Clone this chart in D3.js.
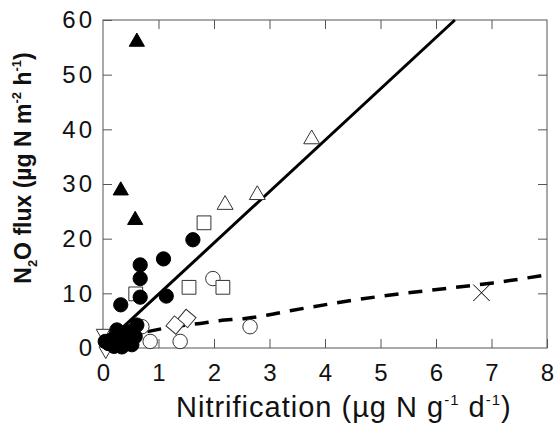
<!DOCTYPE html>
<html>
<head>
<meta charset="utf-8">
<script src="https://cdn.jsdelivr.net/npm/d3@7"></script>
<style>
  body { margin: 0; background: #fff; }
  svg { font-family: "Liberation Sans", Arial, sans-serif; }
</style>
</head>
<body>
<div id="chart"></div>
<script>
// ---- data ----
const x_ticks = [0, 1, 2, 3, 4, 5, 6, 7, 8];
const y_ticks = [0, 10, 20, 30, 40, 50, 60];

const filled_circle_x = [1.62, 1.09, 0.67, 0.67, 0.67, 1.14, 0.32, 0.61, 0.49, 0.25, 0.04, 0.16, 0.40, 0.58, 0.34, 0.25, 0.30, 0.45, 0.20, 0.10, 0.52, 0.38];
const filled_circle_y = [19.8, 16.3, 15.2, 12.7, 9.3, 9.5, 7.9, 4.2, 3.0, 2.7, 1.2, 1.5, 0.9, 2.1, 0.2, 3.3, 0.5, 1.8, 0.3, 0.8, 0.6, 2.4];

const open_circle_x = [1.98, 2.65, 1.39, 0.85, 0.70];
const open_circle_y = [12.7, 3.9, 1.2, 1.2, 3.9];

const open_square_x = [1.82, 1.55, 2.16, 0.59];
const open_square_y = [22.9, 11.1, 11.1, 9.9];

const open_triangle_x = [2.20, 2.78, 3.76];
const open_triangle_y = [26.2, 28.0, 38.2];

const filled_triangle_x = [0.61, 0.32, 0.58];
const filled_triangle_y = [56.0, 28.8, 23.4];

const diamond_x = [1.51, 1.30];
const diamond_y = [5.4, 4.2];

const down_triangle_x = [0.0, 0.05];
const down_triangle_y = [2.7, -0.5];

const cross_x = [6.82];
const cross_y = [10.1];

// fitted lines
const solid_x = [0.2, 6.34];
const solid_y = [2.3, 60];
const dashed_x = [0.8, 1.27, 1.75, 2.1, 2.56, 2.95, 3.37, 4.96, 6.19, 7.03, 8.0];
const dashed_y = [3.0, 3.9, 4.5, 5.0, 5.4, 6.0, 6.8, 9.4, 10.9, 11.9, 13.4];

const zip = (xs, ys) => xs.map((x, i) => [x, ys[i]]);

// ---- layout ----
const chart_width = 559;
const chart_height = 425;
const plot_left = 103, plot_right = 547, plot_top = 20, plot_bottom = 348;

const svg = d3.select('#chart')
    .append('svg')
    .attr('width', chart_width)
    .attr('height', chart_height);

const x_scale = d3.scaleLinear().domain([0, 8]).range([plot_left, plot_right]);
const y_scale = d3.scaleLinear().domain([0, 60]).range([plot_bottom, plot_top]);

// frame
svg.append('rect')
    .attr('x', plot_left).attr('y', plot_top)
    .attr('width', plot_right - plot_left).attr('height', plot_bottom - plot_top)
    .attr('fill', 'none')
    .attr('stroke', '#555')
    .attr('stroke-width', 1);

// axes with inward ticks
const tick_len = 9;
const axis_style = g => {
    g.select('.domain').remove();
    g.selectAll('.tick line').attr('stroke', '#555');
};

svg.append('g')
    .attr('transform', `translate(0,${plot_bottom})`)
    .call(d3.axisBottom(x_scale).tickValues(x_ticks).tickSizeInner(-tick_len).tickSizeOuter(0).tickPadding(16))
    .call(axis_style)
    .selectAll('text')
    .attr('font-size', 24)
    .attr('fill', '#111')
    .attr('font-family', '"Liberation Sans", Arial, sans-serif');

svg.append('g')
    .attr('transform', `translate(0,${plot_top})`)
    .call(d3.axisTop(x_scale).tickValues(x_ticks.slice(1, -1)).tickSizeInner(-tick_len).tickSizeOuter(0).tickFormat(''))
    .call(axis_style);

svg.append('g')
    .attr('transform', `translate(${plot_left},0)`)
    .call(d3.axisLeft(y_scale).tickValues(y_ticks).tickSizeInner(-tick_len).tickSizeOuter(0).tickPadding(8))
    .call(axis_style)
    .selectAll('text')
    .attr('font-size', 24)
    .attr('letter-spacing', 3)
    .attr('fill', '#111')
    .attr('font-family', '"Liberation Sans", Arial, sans-serif');

svg.append('g')
    .attr('transform', `translate(${plot_right},0)`)
    .call(d3.axisRight(y_scale).tickValues(y_ticks.slice(1, -1)).tickSizeInner(-tick_len).tickSizeOuter(0).tickFormat(''))
    .call(axis_style);

// fitted lines
const line = d3.line().x(d => x_scale(d[0])).y(d => y_scale(d[1]));

svg.append('path')
    .datum(zip(solid_x, solid_y))
    .attr('d', line)
    .attr('fill', 'none')
    .attr('stroke', '#000')
    .attr('stroke-width', 3);

svg.append('path')
    .datum(zip(dashed_x, dashed_y))
    .attr('d', line.curve(d3.curveMonotoneX))
    .attr('fill', 'none')
    .attr('stroke', '#000')
    .attr('stroke-width', 3.5)
    .attr('stroke-dasharray', '14,10');

// markers
const draw_points = (xs, ys, type, size, filled, rotate) => {
    svg.append('g')
        .selectAll('path')
        .data(zip(xs, ys))
        .enter()
        .append('path')
        .attr('d', d3.symbol().type(type).size(size))
        .attr('transform', d => `translate(${x_scale(d[0])},${y_scale(d[1])}) rotate(${rotate || 0})`)
        .attr('fill', filled ? '#000' : '#fff')
        .attr('stroke', filled ? '#000' : '#333')
        .attr('stroke-width', 1);
};

draw_points(open_circle_x, open_circle_y, d3.symbolCircle, 165, false);
draw_points(open_square_x, open_square_y, d3.symbolSquare, 190, false);
draw_points(open_triangle_x, open_triangle_y, d3.symbolTriangle, 110, false);
draw_points(diamond_x, diamond_y, d3.symbolSquare, 170, false, 40);
draw_points(down_triangle_x, down_triangle_y, d3.symbolTriangle, 80, false, 180);
draw_points(filled_circle_x, filled_circle_y, d3.symbolCircle, 160, true);
draw_points(filled_triangle_x, filled_triangle_y, d3.symbolTriangle, 100, true);

svg.append('g')
    .selectAll('path')
    .data(zip(cross_x, cross_y))
    .enter()
    .append('path')
    .attr('d', d3.symbol().type(d3.symbolTimes).size(180))
    .attr('transform', d => `translate(${x_scale(d[0])},${y_scale(d[1])})`)
    .attr('fill', 'none')
    .attr('stroke', '#000')
    .attr('stroke-width', 1);

// axis titles
const x_title = svg.append('text')
    .attr('x', 176)
    .attr('y', 417)
    .attr('font-size', 29)
    .attr('letter-spacing', 1)
    .attr('fill', '#111');
x_title.append('tspan').text('Nitrification (µg N g');
x_title.append('tspan').text('-1').attr('font-size', 15).attr('dy', -12);
x_title.append('tspan').text(' d').attr('font-size', 29).attr('dy', 12);
x_title.append('tspan').text('-1').attr('font-size', 15).attr('dy', -12);
x_title.append('tspan').text(')').attr('font-size', 29).attr('dy', 12);

const y_title = svg.append('text')
    .attr('transform', 'translate(31,168) rotate(-90)')
    .attr('text-anchor', 'middle')
    .attr('font-size', 23)
    .attr('font-weight', 'bold')
    .attr('fill', '#111');
y_title.append('tspan').text('N');
y_title.append('tspan').text('2').attr('font-size', 13).attr('dy', 6);
y_title.append('tspan').text('O flux (µg N m').attr('font-size', 23).attr('dy', -6);
y_title.append('tspan').text('-2').attr('font-size', 13).attr('dy', -10);
y_title.append('tspan').text(' h').attr('font-size', 23).attr('dy', 10);
y_title.append('tspan').text('-1').attr('font-size', 13).attr('dy', -10);
y_title.append('tspan').text(')').attr('font-size', 23).attr('dy', 10);
</script>
</body>
</html>
